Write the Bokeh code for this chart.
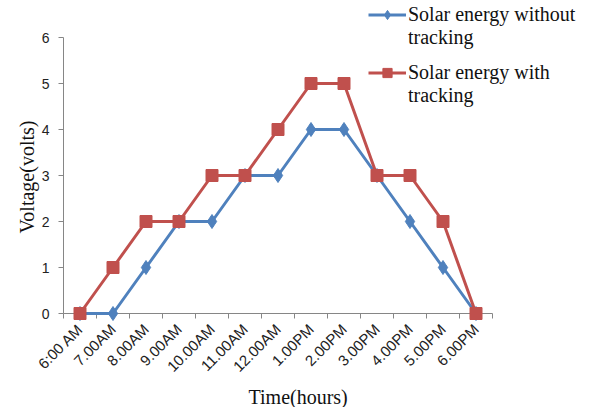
import math
from bokeh.plotting import figure
from bokeh.models import Range1d, FixedTicker, Legend, LegendItem, Title
from bokeh.embed import file_html
from bokeh.resources import INLINE

# Hourly readings of panel voltage
times = ["6:00 AM", "7.00AM", "8.00AM", "9.00AM", "10.00AM", "11.00AM", "12.00AM",
         "1.00PM", "2.00PM", "3.00PM", "4.00PM", "5.00PM", "6.00PM"]
without_tracking = [0, 0, 1, 2, 2, 3, 3, 4, 4, 3, 2, 1, 0]
with_tracking = [0, 1, 2, 2, 3, 3, 4, 5, 5, 3, 3, 2, 0]
y_ticks = [0, 1, 2, 3, 4, 5, 6]
legend_lines = [("Solar energy without", "tracking"), ("Solar energy with", "tracking")]

BLUE = "#4F81BD"
RED = "#C0504D"
AXIS = "#868686"
SERIF = "Liberation Serif"

n = len(times)
xs = list(range(n))

# pixel layout of the plotting area
FRAME_BOTTOM = 313   # canvas y of the x axis
TOP_GAP = 37         # canvas y of the highest y tick
CELL = 33            # width of one hour slot

# The plotting area reaches the top and right edges so the legend can sit
# above and beside the axes; the axes themselves are bounded to the data span.
p = figure(width=593, height=407, output_backend="svg", toolbar_location=None,
           x_range=Range1d(-0.5, n - 0.5 + 101 / CELL),
           y_range=Range1d(y_ticks[0], y_ticks[-1] * FRAME_BOTTOM / (FRAME_BOTTOM - TOP_GAP)),
           min_border_left=63, min_border_right=0, min_border_top=0,
           min_border_bottom=407 - FRAME_BOTTOM)
p.outline_line_color = None
p.grid.visible = False
p.background_fill_color = "white"
p.border_fill_color = "white"

# category axis: labels at the centres, tick marks on the boundaries
p.xaxis.ticker = FixedTicker(ticks=xs, minor_ticks=[i - 0.5 for i in range(n + 1)])
p.xaxis.bounds = (-0.5, n - 0.5)
p.xaxis.major_label_overrides = {i: t for i, t in enumerate(times)}
p.xaxis.major_tick_line_color = None
p.xaxis.minor_tick_in = 0
p.xaxis.minor_tick_out = 5
p.xaxis.minor_tick_line_color = AXIS
p.xaxis.major_label_orientation = math.pi / 4
p.xaxis.major_label_standoff = 7
p.xaxis.major_label_text_font_size = "15px"

p.yaxis.ticker = FixedTicker(ticks=y_ticks, minor_ticks=[])
p.yaxis.bounds = (y_ticks[0], y_ticks[-1])
p.yaxis.major_tick_in = 0
p.yaxis.major_tick_out = 5
p.yaxis.major_tick_line_color = AXIS
p.yaxis.major_label_standoff = 9
p.yaxis.major_label_text_font_size = "14px"

for ax in (p.xaxis, p.yaxis):
    ax.axis_line_color = AXIS
    ax.major_label_text_font = "Liberation Sans"
    ax.major_label_text_color = "#222222"

title_style = dict(text_font=SERIF, text_font_size="20px", text_font_style="normal",
                   text_color="#111111")
p.add_layout(Title(text="Time(hours)", align="left", offset=185, standoff=0,
                   **title_style), "below")
p.add_layout(Title(text="Voltage(volts)", align="left", offset=80, standoff=1,
                   **title_style), "left")

l1 = p.line(xs, without_tracking, line_color=BLUE, line_width=3, level="overlay")
s1 = p.scatter(xs, without_tracking, marker="diamond", size=14, fill_color=BLUE,
               line_color=BLUE, level="overlay")
l2 = p.line(xs, with_tracking, line_color=RED, line_width=3, level="overlay")
s2 = p.scatter(xs, with_tracking, marker="square", size=12, fill_color=RED,
               line_color=RED, level="overlay")

# a blank swatch for the wrapped second line of each legend entry
blank = p.line([], [], line_alpha=0)


def make_legend(lines, renderers, top):
    first, second = lines
    return Legend(items=[LegendItem(label=first, renderers=renderers),
                         LegendItem(label=second, renderers=[blank])],
                  location=(305, FRAME_BOTTOM - top - 46), border_line_color=None,
                  background_fill_alpha=0,
                  label_text_font=SERIF, label_text_font_size="20px",
                  label_text_color="#111111", label_height=23, glyph_height=23,
                  glyph_width=38, label_standoff=2, padding=0, margin=0, spacing=0)


p.add_layout(make_legend(legend_lines[0], [l1, s1], 3))
p.add_layout(make_legend(legend_lines[1], [l2, s2], 61))

open("out.html", "w").write(file_html(p, INLINE))
